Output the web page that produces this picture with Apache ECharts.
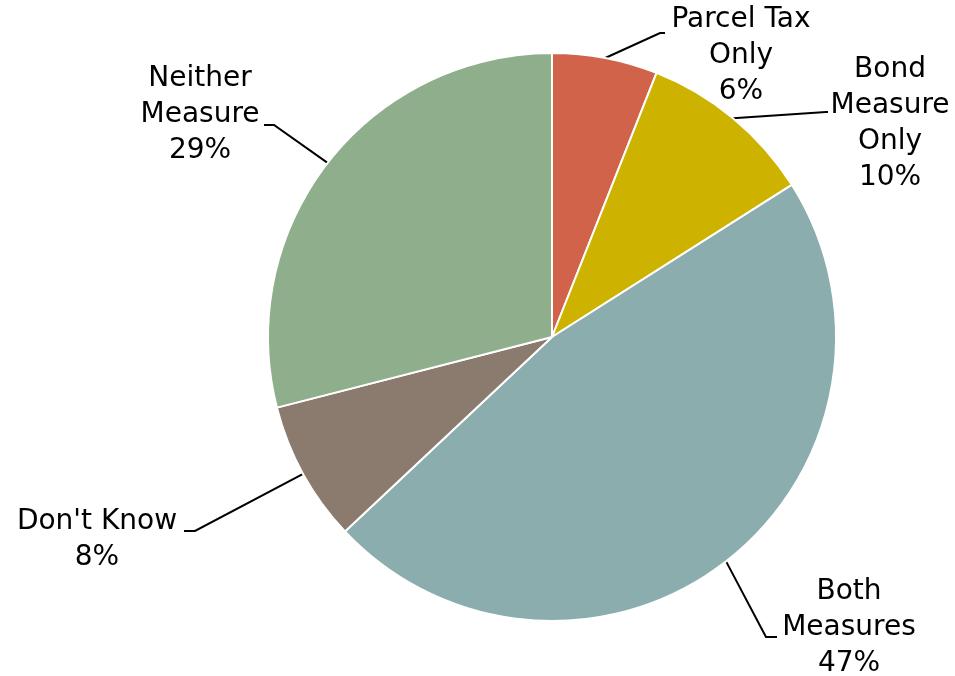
<!DOCTYPE html>
<html>
<head>
<meta charset="utf-8">
<script src="https://cdn.jsdelivr.net/npm/echarts@6/dist/echarts.min.js"></script>
<style>
  html, body { margin: 0; padding: 0; background: #fff; }
  #main { width: 955px; height: 676px; }
</style>
</head>
<body>
<div id="main"></div>
<script>
const categories = ['Parcel Tax\nOnly', 'Bond\nMeasure\nOnly', 'Both\nMeasures', "Don't Know", 'Neither\nMeasure']
const values = [6, 10, 47, 8, 29]
const colors = ['#D0634A', '#CDB300', '#8CADAD', '#8B7A6E', '#8FAE8B']

// label centres and leader-line bends (screen px)
const labelPos = [[741, 56], [890, 124], [849, 628], [97, 540], [200, 115]]
const lineBends = [
  [[660, 33], [665, 33]],
  [[826, 112], [828, 112]],
  [[766, 637], [777, 637]],
  [[195, 531], [184, 531]],
  [[274, 125], [264, 125]]
]

const chart = echarts.init(document.getElementById('main'))

chart.setOption({
  animation: false,
  series: [
    {
      type: 'pie',
      center: [552, 337],
      radius: 284,
      startAngle: 90,
      clockwise: true,
      itemStyle: { borderColor: '#fff', borderWidth: 2 },
      label: {
        show: true,
        position: 'outside',
        formatter: (p) => p.name + '\n' + p.value + '%',
        fontFamily: 'DejaVu Sans',
        fontSize: 28,
        lineHeight: 36,
        color: '#000',
        align: 'center',
        overflow: 'none'
      },
      labelLine: {
        show: true,
        lineStyle: { color: '#000', width: 2 }
      },
      labelLayout: (params) => {
        const i = params.dataIndex
        const pts = [params.labelLinePoints[0]].concat(lineBends[i])
        return {
          x: labelPos[i][0],
          y: labelPos[i][1],
          align: 'center',
          verticalAlign: 'middle',
          labelLinePoints: pts
        }
      },
      data: categories.map((c, i) => ({
        name: c,
        value: values[i],
        itemStyle: { color: colors[i] }
      }))
    }
  ]
})
</script>
</body>
</html>
